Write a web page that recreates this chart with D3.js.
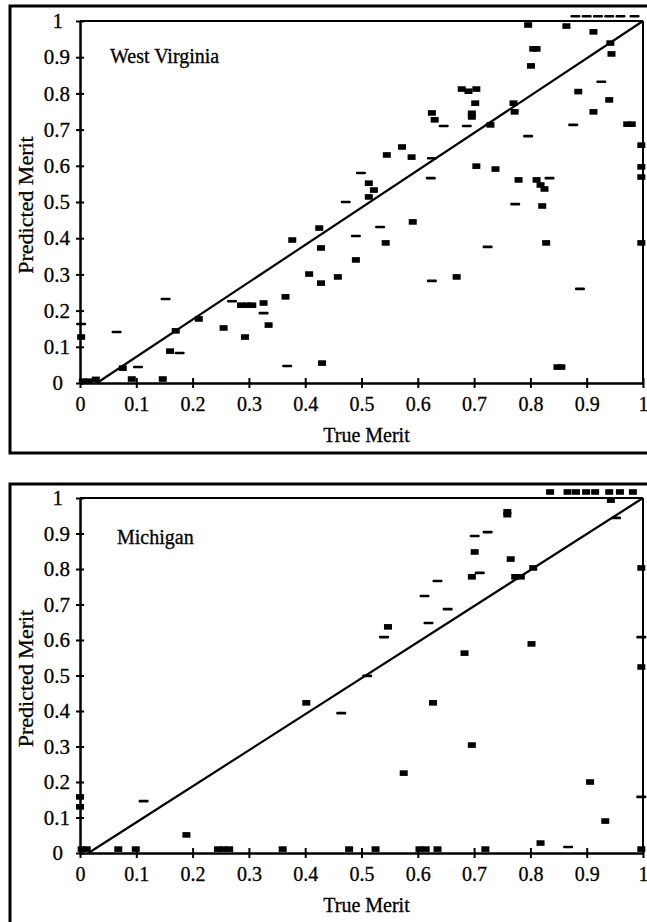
<!DOCTYPE html>
<html>
<head>
<meta charset="utf-8">
<script src="https://cdn.jsdelivr.net/npm/d3@7"></script>
<style>
  body { margin: 0; background: #fff; }
  text { font-family: "Liberation Serif", "Times New Roman", serif; fill: #000; stroke: #000; stroke-width: 0.3; }
</style>
</head>
<body>
<script>
// tick values shared by both panels
var tickValues = [0, 0.1, 0.2, 0.3, 0.4, 0.5, 0.6, 0.7, 0.8, 0.9, 1];

// West Virginia: [true merit, predicted merit]
var wvSquares = [
  [0.796, 0.989], [0.864, 0.986], [0.912, 0.970], [0.942, 0.939], [0.944, 0.909],
  [0.805, 0.923], [0.811, 0.923], [0.801, 0.876], [0.885, 0.805], [0.940, 0.782],
  [0.912, 0.749], [0.972, 0.715], [0.980, 0.715], [0.997, 0.657], [0.997, 0.597],
  [0.997, 0.569], [0.678, 0.812], [0.704, 0.812], [0.690, 0.806], [0.702, 0.773],
  [0.696, 0.745], [0.696, 0.735], [0.625, 0.746], [0.630, 0.727], [0.729, 0.713],
  [0.770, 0.773], [0.772, 0.749], [0.572, 0.652], [0.545, 0.630], [0.589, 0.624],
  [0.513, 0.552], [0.522, 0.533], [0.513, 0.514], [0.704, 0.599], [0.738, 0.591],
  [0.779, 0.561], [0.811, 0.561], [0.818, 0.547], [0.825, 0.536], [0.821, 0.489],
  [0.591, 0.445], [0.428, 0.373], [0.428, 0.276], [0.430, 0.055], [0.543, 0.387],
  [0.490, 0.340], [0.458, 0.293], [0.669, 0.293], [0.828, 0.387], [0.848, 0.044],
  [0.855, 0.044], [0.997, 0.387], [0.377, 0.395], [0.425, 0.428], [0.407, 0.301],
  [0.365, 0.238], [0.326, 0.221], [0.335, 0.160], [0.286, 0.215], [0.297, 0.215],
  [0.306, 0.215], [0.293, 0.127], [0.255, 0.152], [0.211, 0.177], [0.170, 0.144],
  [0.160, 0.088], [0.002, 0.127], [0.076, 0.041], [0.092, 0.011], [0.147, 0.011],
  [0.005, 0.005], [0.015, 0.005], [0.028, 0.010]
];
var wvDashes = [
  [0.926, 0.832], [0.876, 0.713], [0.646, 0.710], [0.687, 0.710], [0.796, 0.682],
  [0.625, 0.621], [0.499, 0.580], [0.472, 0.500], [0.623, 0.566], [0.834, 0.566],
  [0.773, 0.494], [0.533, 0.431], [0.490, 0.406], [0.625, 0.282], [0.724, 0.376],
  [0.888, 0.260], [0.326, 0.193], [0.270, 0.226], [0.177, 0.083], [0.152, 0.232],
  [0.065, 0.141], [0.002, 0.163], [0.103, 0.044], [0.368, 0.047],
  [0.880, 1.013], [0.900, 1.013], [0.920, 1.013], [0.940, 1.013], [0.960, 1.013], [0.985, 1.013]
];
var wvFit = [[0.03, 0], [1, 1]];

// Michigan: [true merit, predicted merit]
var miSquares = [
  [0.835, 1.017], [0.866, 1.017], [0.881, 1.017], [0.899, 1.017], [0.915, 1.017],
  [0.940, 1.017], [0.959, 1.017], [0.982, 1.017],
  [0.943, 0.994], [0.759, 0.961], [0.759, 0.953], [0.701, 0.848], [0.765, 0.828],
  [0.805, 0.803], [0.773, 0.778], [0.783, 0.778], [0.696, 0.778], [0.547, 0.637],
  [0.683, 0.563], [0.802, 0.589], [0.997, 0.803], [0.997, 0.524], [0.627, 0.423],
  [0.696, 0.304], [0.575, 0.225], [0.906, 0.200], [0.933, 0.090], [0.818, 0.028],
  [0.478, 0.011], [0.525, 0.011], [0.603, 0.011], [0.614, 0.011], [0.635, 0.011],
  [0.720, 0.011], [0.997, 0.011], [0.402, 0.423], [0.189, 0.051], [0.068, 0.011],
  [0.099, 0.011], [0.245, 0.011], [0.255, 0.011], [0.265, 0.011], [0.360, 0.011],
  [0.003, 0.011], [0.012, 0.011], [0.000, 0.158], [0.000, 0.130]
];
var miDashes = [
  [0.952, 0.944], [0.724, 0.904], [0.701, 0.893], [0.710, 0.789], [0.635, 0.766],
  [0.612, 0.724], [0.653, 0.687], [0.619, 0.648], [0.540, 0.608], [0.510, 0.499],
  [0.464, 0.394], [0.113, 0.146], [0.867, 0.017], [0.997, 0.158], [0.997, 0.608]
];
var miFit = [[0.015, 0], [1, 1]];

var width = 647, height = 922;

var svg = d3.select("body").append("svg")
    .attr("width", width)
    .attr("height", height);

var x = d3.scaleLinear().domain([0, 1]).range([80, 643]);

function drawPanel(p) {
    var y = d3.scaleLinear().domain([0, 1]).range([p.y0, p.y1]);

    // outer frame
    svg.append("rect")
        .attr("x", 10).attr("y", p.frameTop)
        .attr("width", 660).attr("height", p.frameBottom - p.frameTop)
        .attr("fill", "none").attr("stroke", "#000").attr("stroke-width", 3);

    // top and right edges of the plot
    svg.append("line")
        .attr("x1", x(0)).attr("x2", x(1)).attr("y1", y(1)).attr("y2", y(1))
        .attr("stroke", "#000").attr("stroke-width", 2);
    svg.append("line")
        .attr("x1", x(1)).attr("x2", x(1)).attr("y1", y(1)).attr("y2", y(0))
        .attr("stroke", "#000").attr("stroke-width", 2);

    var fmt = function (d) { return d === 0 || d === 1 ? String(d) : d3.format(".1f")(d); };

    var xAxis = svg.append("g")
        .attr("transform", "translate(0," + y(0) + ")")
        .call(d3.axisBottom(x).tickValues(tickValues).tickFormat(fmt)
            .tickSizeInner(5).tickSizeOuter(0).tickPadding(9));
    xAxis.select(".domain").attr("stroke-width", 2.5);
    xAxis.selectAll(".tick line").attr("y1", -5).attr("stroke-width", 2);
    xAxis.selectAll("text").attr("font-size", 20)
        .style("font-family", "'Liberation Serif', serif");

    var yAxis = svg.append("g")
        .attr("transform", "translate(" + x(0) + ",0)")
        .call(d3.axisLeft(y).tickValues(tickValues).tickFormat(fmt)
            .tickSizeInner(4).tickSizeOuter(0).tickPadding(6));
    yAxis.select(".domain").attr("stroke-width", 2.5);
    yAxis.selectAll(".tick line").attr("x1", 4).attr("stroke-width", 2);
    yAxis.selectAll("text").attr("font-size", 21)
        .style("font-family", "'Liberation Serif', serif");
    yAxis.selectAll(".tick text").filter(function (d) { return d === 0 || d === 1; })
        .attr("x", -17);

    // diagonal
    svg.append("path")
        .datum(p.fit)
        .attr("d", d3.line().x(function (d) { return x(d[0]); }).y(function (d) { return y(d[1]); }))
        .attr("fill", "none").attr("stroke", "#000").attr("stroke-width", 2.2);

    svg.append("g").selectAll("rect")
        .data(p.squares)
        .enter().append("rect")
        .attr("x", function (d) { return x(d[0]) - 4; })
        .attr("y", function (d) { return y(d[1]) - 2.8; })
        .attr("width", 8).attr("height", 5.6)
        .attr("fill", "#000");

    svg.append("g").selectAll("rect")
        .data(p.dashes)
        .enter().append("rect")
        .attr("x", function (d) { return x(d[0]) - 5; })
        .attr("y", function (d) { return y(d[1]) - 1.3; })
        .attr("width", 10).attr("height", 2.6)
        .attr("rx", 1)
        .attr("fill", "#000");

    svg.append("text")
        .attr("x", p.titleX).attr("y", p.titleY)
        .attr("font-size", 20)
        .text(p.title);

    svg.append("text")
        .attr("x", (x(0) + x(1)) / 2 + 5).attr("y", y(0) + 59)
        .attr("text-anchor", "middle")
        .attr("font-size", 20)
        .text("True Merit");

    svg.append("text")
        .attr("transform", "translate(33," + ((p.y0 + p.y1) / 2 + 3) + ") rotate(-90)")
        .attr("text-anchor", "middle")
        .attr("font-size", 22)
        .text("Predicted Merit");
}

drawPanel({
    title: "West Virginia", titleX: 110, titleY: 63,
    y0: 383, y1: 21, frameTop: 6, frameBottom: 453,
    squares: wvSquares, dashes: wvDashes, fit: wvFit
});

drawPanel({
    title: "Michigan", titleX: 117, titleY: 544,
    y0: 853, y1: 498, frameTop: 484, frameBottom: 930,
    squares: miSquares, dashes: miDashes, fit: miFit
});
</script>
</body>
</html>
